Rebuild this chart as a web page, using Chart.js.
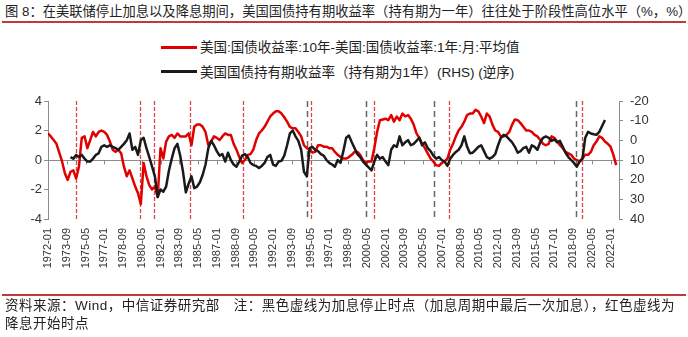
<!DOCTYPE html>
<html>
<head>
<meta charset="utf-8">
<script src="https://cdn.jsdelivr.net/npm/chart.js@4.4.0/dist/chart.umd.min.js"></script>
<style>
  body { margin: 0; background: #fff; font-family: "Liberation Sans", "Noto Sans CJK SC", sans-serif; }
  #wrap { position: relative; width: 688px; height: 337px; overflow: hidden; }
  #chart { position: absolute; left: 0; top: 0; }
  .title { position: absolute; left: 5px; top: 3px; font-size: 13.3px; line-height: 18px; color: #222; white-space: nowrap; }
  .rule { position: absolute; left: 2px; width: 684px; height: 2px; background: #c0393b; }
  .legend { position: absolute; left: 161px; top: 38px; font-size: 13.5px; color: #222; }
  .legend .item { height: 24.5px; line-height: 20px; white-space: nowrap; }
  .legend .swatch { display: inline-block; width: 36px; height: 3px; margin-right: 3px; vertical-align: middle; position: relative; top: -1px; }
  .footer { position: absolute; left: 5px; top: 297px; font-size: 13.5px; letter-spacing: 0.5px; line-height: 18px; color: #222; white-space: nowrap; }
</style>
</head>
<body>
<div id="wrap">
  <div class="title">图 8：在美联储停止加息以及降息期间，美国国债持有期收益率（持有期为一年）往往处于阶段性高位水平（%，%）</div>
  <div class="rule" style="top:21px"></div>
  <div class="legend">
    <div class="item"><span class="swatch" style="background:#e00000"></span>美国:国债收益率:10年-美国:国债收益率:1年:月:平均值</div>
    <div class="item"><span class="swatch" style="background:#1a1a1a"></span>美国国债持有期收益率（持有期为1年）(RHS) (逆序)</div>
  </div>
  <canvas id="chart" width="688" height="337"></canvas>
  <div class="rule" style="top:294px; height:1.5px"></div>
  <div class="footer">资料来源：Wind，中信证券研究部　注：黑色虚线为加息停止时点（加息周期中最后一次加息），红色虚线为<br>降息开始时点</div>
</div>
<script>
// 季度采样（从 1972-01 开始，每 3 个月一个点）
const spreadValues = [
  1.8, 1.6, 1.35, 1.1, 0.5, -0.1, -0.9, -1.35, -0.8, -0.7,
  -1.25, -0.45, 1.5, 1.6, 0.8, 1.35, 1.9, 1.6, 1.9, 2.0,
  1.9, 1.7, 1.25, 0.7, 0.55, 0.7, 0.45, -0.45, -1.1, -0.7,
  -1.25, -1.8, -2.25, -3.0, -0.2, -1.1, -1.7, -2.0, -1.8, -2.5,
  0.8, 0.1, 1.25, 1.6, 1.7, 1.5, 1.8, 1.6, 1.6, 1.6,
  1.8, 1.0, 2.25, 2.4, 2.4, 2.25, 1.9, 1.0, 1.25, 1.6,
  1.5, 1.35, 1.6, 1.8, 1.7, 1.7, 1.1, 0.7, 0.2, -0.2,
  0, 0.35, 0.4, 0.7, 1.35, 1.8, 2.0, 2.25, 2.6, 2.95,
  3.15, 3.3, 3.3, 3.15, 2.9, 2.6, 2.25, 2.15, 2.15, 1.9,
  1.6, 1.0, 0.8, 0.7, 0.5, 0.55, 1.0, 1.0, 0.9, 0.9,
  0.8, 0.8, 0.55, 0.35, 0.2, 0.1, 0.1, 0.2, 0.35, 0.55,
  0.55, 0.35, 0, -0.2, -0.1, -0.1, 0.8, 1.9, 2.7, 2.75,
  2.8, 2.7, 3.05, 2.6, 2.95, 2.7, 3.15, 2.95, 3.05, 2.8,
  2.4, 1.8, 1.5, 1.1, 0.8, 0.45, 0.1, -0.1, -0.35, -0.4,
  -0.2, -0.1, 0.1, 0.7, 1.1, 1.6, 2.0, 2.25, 2.6, 3.05,
  3.15, 3.15, 3.4, 3.3, 2.95, 2.5, 3.15, 2.95, 2.4, 2.0,
  1.9, 1.6, 1.6, 1.7, 1.9, 2.4, 2.75, 2.7, 2.5, 2.25,
  2.0, 2.0, 1.9, 1.7, 1.6, 1.35, 1.1, 1.0, 1.1, 1.6,
  1.5, 1.25, 1.0, 0.8, 0.55, 0.45, 0.35, 0.1, 0, -0.1,
  0.1, 0.35, 0.35, 0.55, 1.0, 1.25, 1.6, 1.5, 1.25, 1.1,
  0.9, 0.35, -0.35
];

// 持有期收益率（右轴，逆序）
const holdingValues = [
  null, null, null, null, null, null, null, null, 8.5, 9.3,
  7.4, 8.5, 7.4, 9.3, 10.8, 10.8, 9.3, 7.4, 6.6, 3.3,
  2.5, 3.3, 2.5, 3.3, 4.0, 4.8, 3.3, 1.8, -0.1, -3.5,
  4.8, 3.3, 7.4, -0.1, -1.3, 4.0, 8.5, 13.4, 18.3, 28.8,
  25, 26.1, 23.5, 15.3, 9.3, 4.0, 1.8, 7.8, 16, 26.5,
  22, 18.3, 24.3, 23.5, 21.3, 17.5, 12.3, 4.0, 0.3, 2.5,
  5.5, 7.8, 7.0, 10.8, 6.3, 10, 12.3, 13.4, 10.8, 7.8,
  7.0, 8.5, 11.5, 12.6, 13, 14.1, 13, 11.5, 8.5, 7.4,
  12.3, 13, 10.8, 10.4, 7.8, 2.5, -3.5, -5, -2, 0.3,
  4.8, 16, 18.3, 4.0, 3.3, 4.8, 5.5, 7.0, 7.8, 10,
  11.5, 12.3, 13.4, 10, 11.5, 5.5, -1.3, -2.4, 1.0, 4.0,
  7.0, 8.5, 10.8, 12.3, 13.8, 15.3, 10.8, 7.4, 9.3, 8.5,
  10.8, 12.6, 4.8, 2.5, 3.3, -2, 2.5, 1.0, -0.1, 2.5,
  1.8, 0.3, -1.3, 2.5, 1.0, 4.0, 5.5, 7.8, 9.3, 8.5,
  10, 10.8, 13, 9.3, 7.4, 5.9, 4.8, 2.5, -2, 3.3,
  6.6, 6.3, 4.8, 3.3, 2.5, 5.5, 8.5, 9.3, 8.5, 7.0,
  2.5, -1.3, -2.8, -2, -0.5, 1.0, 3.3, 6.3, 5.5, 4.0,
  3.3, 6.3, 2.5, 3.3, 4.8, 1.0, -1.3, -2, -1.3, 0.3,
  -0.5, 1.0, 0.3, 3.3, 6.3, 8.5, 10, 11.5, 13.4, 10.8,
  9.3, -1.3, -4.3, -3.5, -3.1, -2.8, -4.3, -7.3, -10.3
];

// 虚线时点
const hikeStopDates = ['1995-01', '2000-04', '2006-05', '2018-12'];
const cutStartDates = ['1974-07', '1980-03', '1981-06', '1984-08', '1989-05', '1995-06', '2001-01', '2007-09', '2019-07'];

const leftTicks = [-4, 4, 1];
const rightTicks = [-20, 40, 10];
const xTickStep = 20;   // 月
const lastMonth = 609;  // 2022-10

function monthIndex(s) {
  const [y, m] = s.split('-').map(Number);
  return (y - 1972) * 12 + m - 1;
}
function monthLabel(i) {
  const y = 1972 + Math.floor(i / 12);
  return y + '-' + String(i % 12 + 1).padStart(2, '0');
}

const sampleDates = spreadValues.map((_, i) => monthLabel(i * 3));

const markers = {
  id: 'markers',
  beforeDatasetsDraw(chart) {
    const { ctx, chartArea, scales: { x, y } } = chart;
    ctx.save();
    // 零轴与刻度
    const y0 = Math.round(y.getPixelForValue(0)) + 0.5;
    ctx.strokeStyle = '#8c8c8c';
    ctx.lineWidth = 1;
    ctx.beginPath();
    ctx.moveTo(chartArea.left, y0);
    ctx.lineTo(chartArea.right, y0);
    x.ticks.forEach(t => {
      const px = Math.round(x.getPixelForValue(t.value)) + 0.5;
      ctx.moveTo(px, y0);
      ctx.lineTo(px, y0 + 4);
    });
    ctx.stroke();

    const top = y.getPixelForValue(leftTicks[1]);
    const bottom = y.getPixelForValue(leftTicks[0]);
    const drawDash = (dates, color, dash, width) => {
      ctx.strokeStyle = color;
      ctx.lineWidth = width;
      ctx.setLineDash(dash);
      dates.forEach(d => {
        const px = Math.round(x.getPixelForValue(monthIndex(d))) + 0.5;
        ctx.beginPath();
        ctx.moveTo(px, top);
        ctx.lineTo(px, bottom);
        ctx.stroke();
      });
    };
    drawDash(hikeStopDates, '#666666', [6, 4], 1.5);
    drawDash(cutStartDates, '#d9434a', [4, 2], 1.3);
    ctx.restore();
  }
};

const axisColor = '#8c8c8c';
const tickFont = { family: '"Liberation Sans", Arial, sans-serif', size: 13 };

new Chart(document.getElementById('chart'), {
  type: 'line',
  data: {
    datasets: [
      {
        label: '美国:国债收益率:10年-美国:国债收益率:1年:月:平均值',
        data: sampleDates.map((d, i) => ({ x: monthIndex(d), y: spreadValues[i] })),
        borderColor: '#e00000',
        borderWidth: 2.5,
        yAxisID: 'y',
        order: 2
      },
      {
        label: '美国国债持有期收益率（持有期为1年）(RHS) (逆序)',
        data: holdingValues.map((v, i) => ({ x: monthIndex(sampleDates[i]), y: v })),
        borderColor: '#1a1a1a',
        borderWidth: 2.5,
        yAxisID: 'y1',
        order: 1
      }
    ]
  },
  options: {
    responsive: false,
    animation: false,
    devicePixelRatio: 1,
    layout: { padding: { top: 101, bottom: 58, left: 0, right: 0 } },
    elements: { point: { radius: 0 }, line: { tension: 0, borderJoinStyle: 'round' } },
    plugins: { legend: { display: false }, tooltip: { enabled: false } },
    scales: {
      x: {
        type: 'linear',
        min: 0,
        max: lastMonth,
        grid: { display: false, drawTicks: false },
        border: { display: false },
        afterFit: s => { s.height = 60; },
        ticks: {
          stepSize: xTickStep,
          includeBounds: false,
          autoSkip: false,
          minRotation: 90,
          maxRotation: 90,
          padding: 9,
          color: '#333',
          font: { family: '"Liberation Sans", Arial, sans-serif', size: 11 },
          callback: v => monthLabel(v)
        }
      },
      y: {
        position: 'left',
        min: leftTicks[0],
        max: leftTicks[1],
        afterFit: s => { s.width = 48; },
        border: { color: axisColor },
        grid: { drawOnChartArea: false, color: axisColor, tickLength: 4 },
        ticks: { stepSize: leftTicks[2], padding: 2, color: '#333', font: tickFont }
      },
      y1: {
        position: 'right',
        reverse: true,
        min: rightTicks[0],
        max: rightTicks[1],
        afterFit: s => { s.width = 69; },
        border: { color: axisColor },
        grid: { drawOnChartArea: false, color: axisColor, tickLength: 4 },
        ticks: { stepSize: rightTicks[2], padding: 7, color: '#333', font: tickFont }
      }
    }
  },
  plugins: [markers]
});
</script>
</body>
</html>
